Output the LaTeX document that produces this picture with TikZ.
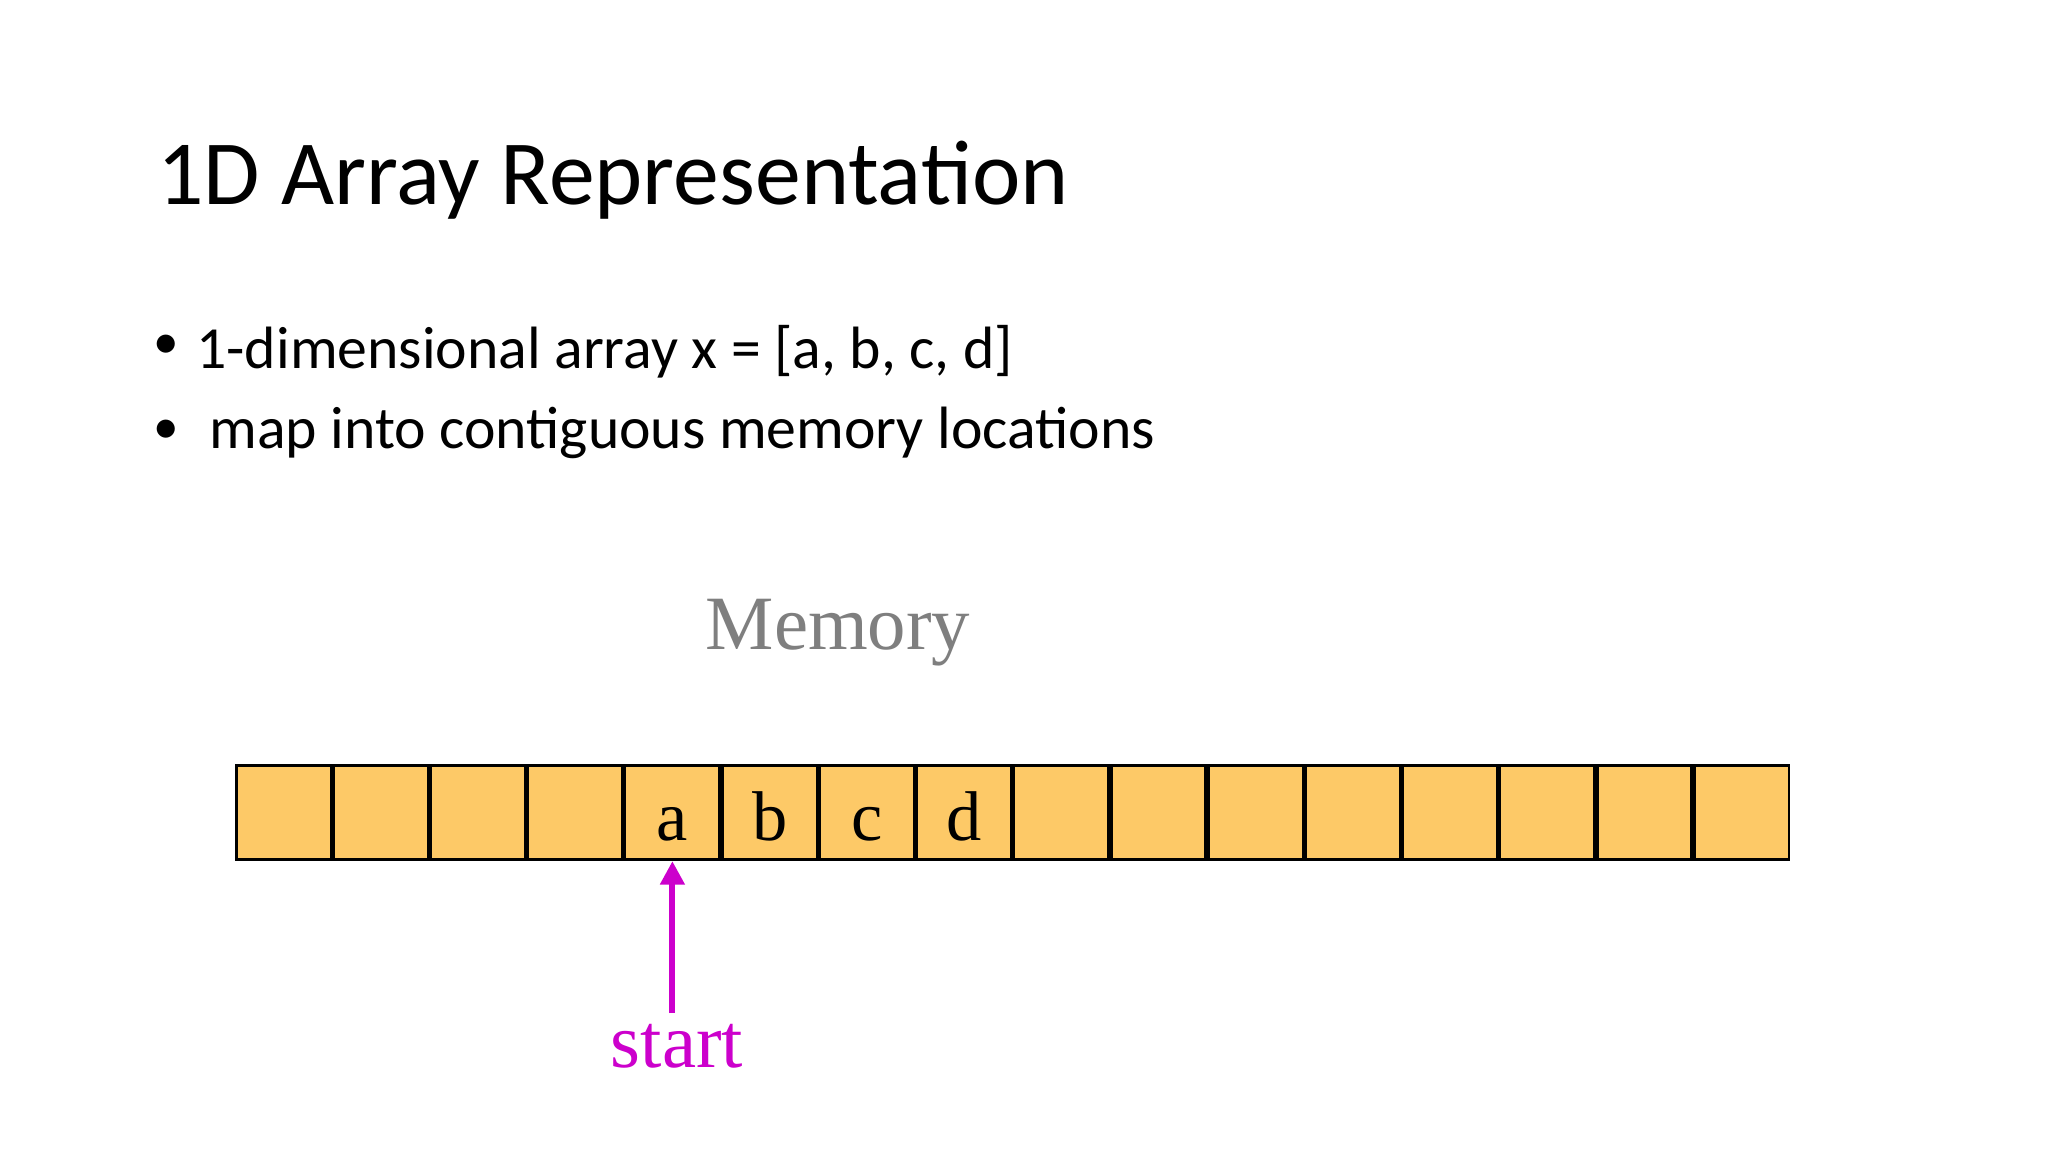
\documentclass[tikz,border=0pt]{standalone}
\usepackage{fontspec}
\setmainfont{Carlito}
\newfontfamily\timesfont{Liberation Serif}
\usetikzlibrary{arrows.meta,positioning}
\definecolor{cellfill}{HTML}{FDC967}
\definecolor{startmag}{HTML}{CC00CC}
\definecolor{memgray}{HTML}{7F7F7F}
\tikzstyle{cell}=[draw=black,fill=cellfill,line width=1.25pt,minimum width=94.5*0.46875pt,minimum height=94.5*0.46875pt,inner sep=0pt]
\tikzstyle{celltext}=[font=\timesfont\fontsize{33}{36}\selectfont,inner sep=0pt,anchor=base]
\tikzstyle{bodytext}=[font=\fontsize{28}{34}\selectfont,inner sep=0pt,anchor=base west]
\tikzstyle{dot}=[font=\fontsize{24}{30}\selectfont,inner sep=0pt]
\tikzstyle{pointer}=[draw=startmag,line width=2.8pt,-{Triangle[length=11pt,width=11pt]}]

\begin{document}
\begin{tikzpicture}[x=0.46875pt,y=-0.46875pt]
    \useasboundingbox[fill=white] (0,0) rectangle (2048,1152);
    % Title and bullets
    \node[anchor=base west,inner sep=0pt,font=\fontsize{43}{52}\selectfont] (title) at (157,205) {1D Array Representation};
    \node[dot] (b1) at (166,347) {•};
    \node[dot] (b2) at (166,432) {•};
    \node[bodytext] (line1) at (196,368) {1-dimensional array x = [a, b, c, d]};
    \node[bodytext] (line2) at (209,448) {map into contiguous memory locations};
    % Memory cells
    \node[font=\timesfont\fontsize{36}{42}\selectfont,text=memgray,anchor=base,inner sep=0pt] (memory) at (838,649) {Memory};
    \foreach \i in {1,...,16}
        \node[cell] (c\i) at ({235+(\i-0.5)*97.2},812.5) {};
    \coordinate (lbase) at (0,840);
    \foreach \i/\l in {5/a, 6/b, 7/c, 8/d}
        \node[celltext] (l\i) at (c\i |- lbase) {\l};
    % Start pointer
    \node[font=\timesfont\fontsize{36}{42}\selectfont,text=startmag,anchor=base,inner sep=0pt] (startlbl) at (677,1067) {start};
    \coordinate (tail) at (c5 |- 0,1013);
    \path[pointer] (tail) -- (c5.south);
\end{tikzpicture}
\end{document}
